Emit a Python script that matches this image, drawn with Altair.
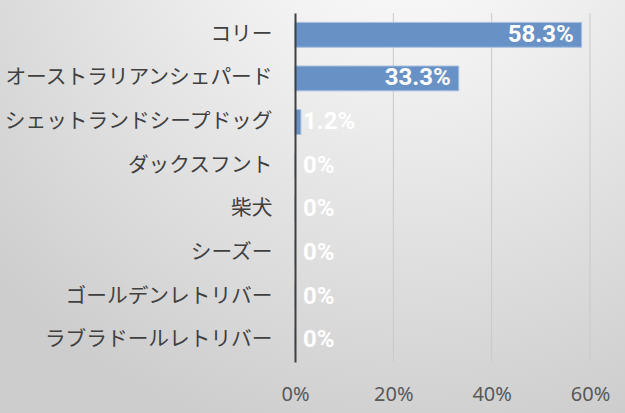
import altair as alt
import pandas as pd

breeds = ["コリー", "オーストラリアンシェパード", "シェットランドシープドッグ", "ダックスフント",
          "柴犬", "シーズー", "ゴールデンレトリバー", "ラブラドールレトリバー"]
shares = [58.3, 33.3, 1.2, 0, 0, 0, 0, 0]
tick_values = [0, 20, 40, 60]
grid_values = [20, 40, 60]

df = pd.DataFrame({"breed": breeds, "share": shares})
df["label"] = ["0%" if v == 0 else f"{v:.1f}%" for v in shares]
grid_df = pd.DataFrame({"t": grid_values})

xscale = alt.Scale(domain=[0, 60], nice=False, zero=True)
yscale = alt.Scale(paddingInner=0.43, paddingOuter=0.215)

bg = alt.Chart(alt.Data(values=[{"bg": 1}])).mark_rect(
    fill={
        "gradient": "radial",
        "x1": 0.65, "y1": 0.0, "r1": 0.0,
        "x2": 0.65, "y2": 0.0, "r2": 0.9,
        "stops": [
            {"offset": 0.0, "color": "#ffffff"},
            {"offset": 0.35, "color": "#efefef"},
            {"offset": 1.0, "color": "#cdcdcd"},
        ],
    }
).encode(x=alt.value(-295), x2=alt.value(330), y=alt.value(-13), y2=alt.value(400))

grid = alt.Chart(grid_df).mark_rule(color="#c9c9c9", strokeWidth=1).encode(
    x=alt.X("t:Q", scale=xscale)
)

x_axis = alt.Axis(values=tick_values, labelExpr="datum.value + '%'", grid=False, domain=False,
                  ticks=False, labelFontSize=20, labelFont="Noto Sans", labelColor="#595959",
                  labelPadding=22, labelFlush=False, labelOverlap=False, title=None, zindex=1)
y_axis = alt.Axis(title=None, ticks=False, domainColor="#404040", domainWidth=2,
                  labelFontSize=20.7, labelFont="Noto Sans CJK JP", labelColor="#404040",
                  labelPadding=23, labelLimit=400, zindex=1)

bars = alt.Chart(df).mark_bar(color="#6891C5", stroke="#A8C0E0", strokeWidth=1).encode(
    x=alt.X("share:Q", scale=xscale, axis=x_axis),
    y=alt.Y("breed:N", sort=breeds, scale=yscale, axis=y_axis),
)

big_labels = alt.Chart(df).transform_filter("datum.share >= 10").mark_text(
    align="right", baseline="middle", dx=-8, color="white", fontWeight="bold",
    font="Roboto", fontSize=24
).encode(
    x=alt.X("share:Q", scale=xscale),
    y=alt.Y("breed:N", sort=breeds),
    text="label:N",
)

small_labels = alt.Chart(df).transform_filter("datum.share < 10").mark_text(
    align="left", baseline="middle", dx=8, color="white", fontWeight="bold",
    font="Roboto", fontSize=24
).encode(
    x=alt.datum(0),
    y=alt.Y("breed:N", sort=breeds),
    text="label:N",
)

chart = alt.layer(bg, grid, bars, big_labels, small_labels).properties(
    width=295, height=349,
    autosize=alt.AutoSizeParams(type="none"),
    padding={"left": 295, "top": 13, "right": 35, "bottom": 51},
).configure_view(stroke=None).configure(background="#d8d8d8")

chart.save("out.html", embed_options={"renderer": "svg", "actions": False})
